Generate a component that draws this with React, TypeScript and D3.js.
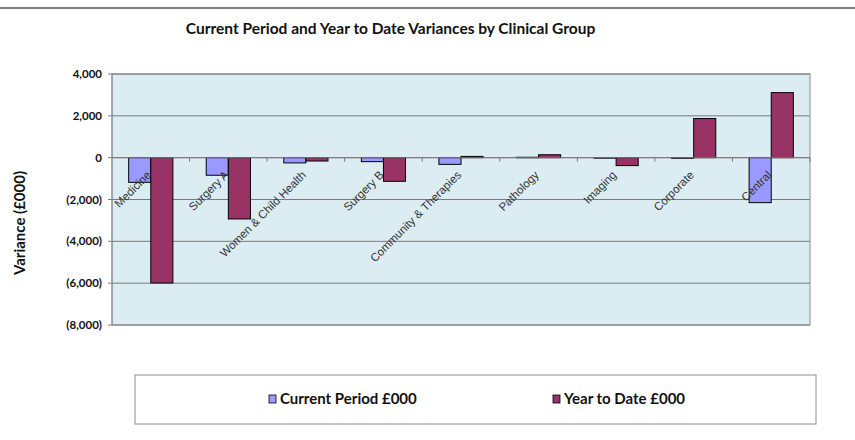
import React from "react";
import * as d3 from "d3";

const categories = [
  "Medicine",
  "Surgery A",
  "Women & Child Health",
  "Surgery B",
  "Community & Therapies",
  "Pathology",
  "Imaging",
  "Corporate",
  "Central",
];
const currentPeriod = [-1180, -840, -250, -190, -320, 20, -20, -30, -2150];
const yearToDate = [-5990, -2930, -160, -1130, 60, 140, -380, 1870, 3110];
const yTicks = [4000, 2000, 0, -2000, -4000, -6000, -8000];
const seriesNames = ["Current Period £000", "Year to Date £000"];
const seriesColors = ["#9999FF", "#993366"];

const W = 855;
const H = 440;
const plot = { left: 112, right: 810, top: 74, bottom: 325 };

const fmt = (v: number) => {
  const s = d3.format(",")(Math.abs(v));
  return v < 0 ? `(${s})` : s;
};

export default function App() {
  const x = d3
    .scaleBand<string>()
    .domain(categories)
    .range([plot.left, plot.right])
    .paddingInner(0)
    .paddingOuter(0);
  const y = d3.scaleLinear().domain([-8000, 4000]).range([plot.bottom, plot.top]);
  const step = x.bandwidth();
  const barW = step * 0.285;
  const series = [currentPeriod, yearToDate];
  const zeroY = y(0);
  const titleFont = "'Lato', 'Open Sans', sans-serif";

  return (
    <svg
      width={W}
      height={H}
      style={{ position: "absolute", left: 0, top: 0, background: "#fff" }}
    >
      <line x1={0} x2={W} y1={8} y2={8} stroke="#555" strokeWidth={1.5} />
      <text
        x={390.5}
        y={34}
        textAnchor="middle"
        fontFamily={titleFont}
        fontWeight="bold"
        fontSize={15.5}
        fill="#111"
      >
        Current Period and Year to Date Variances by Clinical Group
      </text>

      {/* plot area */}
      <rect
        x={plot.left}
        y={plot.top}
        width={plot.right - plot.left}
        height={plot.bottom - plot.top}
        fill="#DBEDF3"
        stroke="#8c8c8c"
        strokeWidth={1}
      />
      {yTicks.map((t) => (
        <g key={t}>
          <line
            x1={plot.left}
            x2={plot.right}
            y1={y(t)}
            y2={y(t)}
            stroke="#7a7a7a"
            strokeWidth={1}
          />
          <line
            x1={plot.left - 4}
            x2={plot.left}
            y1={y(t)}
            y2={y(t)}
            stroke="#7a7a7a"
          />
          <text
            x={plot.left - 10}
            y={y(t) + 4}
            textAnchor="end"
            fontFamily={titleFont}
            fontWeight="bold"
            fontSize={11.5}
            fill="#111"
          >
            {fmt(t)}
          </text>
        </g>
      ))}
      <line
        x1={plot.left}
        x2={plot.left}
        y1={plot.top}
        y2={plot.bottom}
        stroke="#8c8c8c"
      />

      {/* bars */}
      {series.map((vals, si) =>
        vals.map((v, i) => {
          const cx = (x(categories[i]) as number) + step / 2;
          const bx = cx - barW + si * barW;
          const y0 = y(Math.max(0, v));
          const y1 = y(Math.min(0, v));
          return (
            <rect
              key={`${si}-${i}`}
              x={bx}
              y={y0}
              width={barW}
              height={Math.max(y1 - y0, 0.5)}
              fill={seriesColors[si]}
              stroke="#000"
              strokeWidth={1}
            />
          );
        })
      )}

      {/* category axis at zero */}
      <line x1={plot.left} x2={plot.right} y1={zeroY} y2={zeroY} stroke="#7a7a7a" />
      {categories.map((c, i) => (
        <line
          key={`t${i}`}
          x1={(x(c) as number) + step}
          x2={(x(c) as number) + step}
          y1={zeroY}
          y2={zeroY + 4}
          stroke="#7a7a7a"
        />
      ))}
      {categories.map((c) => {
        const cx = (x(c) as number) + step / 2 + 1;
        const cy = zeroY + 18;
        return (
          <text
            key={c}
            transform={`translate(${cx},${cy}) rotate(-45)`}
            textAnchor="end"
            fontFamily="'Liberation Sans', Arial, sans-serif"
            fontSize={11.5}
            fill="#333"
          >
            {c}
          </text>
        );
      })}

      {/* y axis title */}
      <text
        transform={`translate(25,223) rotate(-90)`}
        textAnchor="middle"
        fontFamily={titleFont}
        fontWeight="bold"
        fontSize={15}
        fill="#111"
      >
        Variance (£000)
      </text>

      {/* legend */}
      <rect x={135} y={375} width={681} height={49} fill="#fff" stroke="#8c8c8c" />
      {seriesNames.map((n, i) => {
        const lx = [269, 553][i];
        return (
          <g key={n}>
            <rect
              x={lx}
              y={395}
              width={7}
              height={8}
              fill={seriesColors[i]}
              stroke="#000"
              strokeWidth={0.8}
            />
            <text
              x={lx + 11}
              y={404}
              fontFamily={titleFont}
              fontWeight="bold"
              fontSize={15}
              fill="#111"
            >
              {n}
            </text>
          </g>
        );
      })}
    </svg>
  );
}
